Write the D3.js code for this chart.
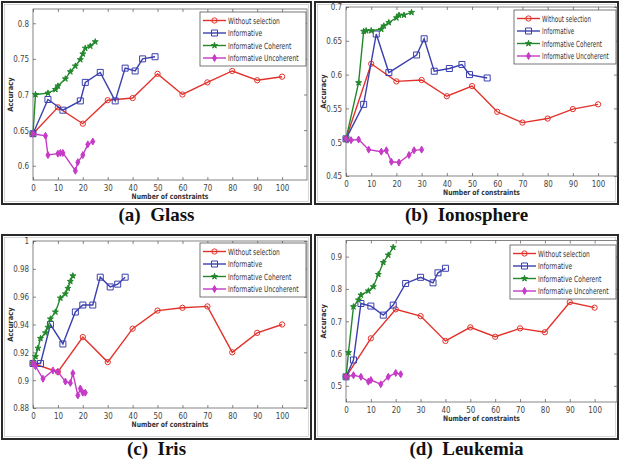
<!DOCTYPE html>
<html>
<head>
<meta charset="utf-8">
<script src="https://cdn.jsdelivr.net/npm/d3@7"></script>
<style>
  body { margin: 0; background: #fff; }
  svg { display: block; }
</style>
</head>
<body>
<script>
// legend names
const seriesNames = ['Without selection', 'Informative', 'Informative Coherent', 'Informative Uncoherent'];
const xTicks = [0, 10, 20, 30, 40, 50, 60, 70, 80, 90, 100];

// (a) Glass
const glassWithoutX = [0, 10, 20, 30, 40, 50, 60, 70, 80, 90, 100];
const glassWithoutY = [0.645, 0.682, 0.659, 0.692, 0.695, 0.729, 0.700, 0.717, 0.733, 0.720, 0.725];
const glassInfX = [0, 6, 12, 19, 21, 27, 33, 37, 41, 44, 49];
const glassInfY = [0.645, 0.693, 0.678, 0.691, 0.717, 0.731, 0.691, 0.737, 0.733, 0.750, 0.753];
const glassCohX = [0, 1, 6, 9, 10, 13, 15, 17, 19, 20, 21, 23, 25];
const glassCohY = [0.645, 0.700, 0.702, 0.707, 0.712, 0.722, 0.732, 0.740, 0.749, 0.757, 0.765, 0.768, 0.774];
const glassUncX = [0, 5, 6, 10, 11, 12, 17, 18, 20, 22, 24];
const glassUncY = [0.645, 0.642, 0.615, 0.617, 0.618, 0.618, 0.593, 0.605, 0.615, 0.630, 0.634];
const glassYTicks = [0.6, 0.65, 0.7, 0.75, 0.8];

// (b) Ionosphere
const ionoWithoutX = [0, 10, 20, 30, 40, 50, 60, 70, 80, 90, 100];
const ionoWithoutY = [0.505, 0.616, 0.590, 0.592, 0.568, 0.583, 0.545, 0.529, 0.535, 0.549, 0.556];
const ionoInfX = [0, 7, 12, 17, 28, 31, 35, 41, 46, 49, 56];
const ionoInfY = [0.505, 0.556, 0.660, 0.603, 0.629, 0.653, 0.605, 0.609, 0.615, 0.600, 0.595];
const ionoCohX = [0, 5, 7, 8, 10, 14, 15, 17, 20, 21, 23, 26];
const ionoCohY = [0.505, 0.588, 0.664, 0.665, 0.665, 0.667, 0.672, 0.677, 0.684, 0.688, 0.688, 0.692];
const ionoUncX = [0, 2, 5, 9, 14, 16, 18, 21, 25, 27, 30];
const ionoUncY = [0.505, 0.503, 0.504, 0.489, 0.486, 0.488, 0.471, 0.470, 0.481, 0.488, 0.489];
const ionoYTicks = [0.45, 0.5, 0.55, 0.6, 0.65, 0.7];

// (c) Iris
const irisWithoutX = [0, 10, 20, 30, 40, 50, 60, 70, 80, 90, 100];
const irisWithoutY = [0.912, 0.906, 0.931, 0.913, 0.937, 0.950, 0.952, 0.953, 0.920, 0.934, 0.940];
const irisInfX = [0, 3, 7, 12, 17, 20, 24, 27, 31, 34, 37];
const irisInfY = [0.912, 0.912, 0.940, 0.926, 0.949, 0.954, 0.954, 0.974, 0.967, 0.969, 0.974];
const irisCohX = [0, 1, 2, 3, 5, 6, 7, 9, 11, 13, 14, 15, 16];
const irisCohY = [0.912, 0.917, 0.923, 0.930, 0.934, 0.938, 0.944, 0.949, 0.959, 0.962, 0.966, 0.971, 0.975];
const irisUncX = [0, 1, 4, 8, 10, 13, 15, 16, 18, 19, 20, 21];
const irisUncY = [0.912, 0.910, 0.901, 0.907, 0.906, 0.899, 0.898, 0.905, 0.889, 0.894, 0.891, 0.891];
const irisYTicks = [0.88, 0.9, 0.92, 0.94, 0.96, 0.98, 1];

// (d) Leukemia
const leukWithoutX = [0, 10, 20, 30, 40, 50, 60, 70, 80, 90, 100];
const leukWithoutY = [0.528, 0.647, 0.737, 0.716, 0.639, 0.681, 0.652, 0.678, 0.666, 0.759, 0.742];
const leukInfX = [0, 3, 6, 10, 15, 19, 24, 30, 35, 37, 40];
const leukInfY = [0.528, 0.580, 0.755, 0.747, 0.719, 0.750, 0.817, 0.836, 0.819, 0.850, 0.864];
const leukCohX = [0, 1, 3, 5, 6, 9, 11, 13, 15, 17, 19];
const leukCohY = [0.528, 0.603, 0.745, 0.766, 0.781, 0.794, 0.807, 0.845, 0.882, 0.905, 0.929];
const leukUncX = [0, 3, 6, 9, 10, 14, 17, 20, 22];
const leukUncY = [0.528, 0.533, 0.528, 0.513, 0.518, 0.505, 0.528, 0.540, 0.536];
const leukYTicks = [0.5, 0.6, 0.7, 0.8, 0.9];

const colors = ['#e2312b', '#3b3fae', '#23882c', '#c53ac6'];
const symbols = [d3.symbolCircle, d3.symbolSquare, d3.symbolStar, d3.symbolDiamond];
const symSize = [22, 36, 11, 14];
const symFill = [false, false, true, true];

const tickFont = '"Liberation Sans Narrow", "DejaVu Sans Condensed", Arial, sans-serif';

const panels = [
  { caption: '(a)  Glass', frame: [2, 2, 311, 204], plot: [33, 9, 307, 180], xMax: 110, yDom: [0.58, 0.82],
    yTicks: glassYTicks, legend: [200, 12], capY: 221,
    series: [[glassWithoutX, glassWithoutY], [glassInfX, glassInfY], [glassCohX, glassCohY], [glassUncX, glassUncY]] },
  { caption: '(b)  Ionosphere', frame: [315, 2, 618, 204], plot: [346, 7, 617, 176], xMax: 107.5, yDom: [0.45, 0.7],
    yTicks: ionoYTicks, legend: [514, 10], capY: 221,
    series: [[ionoWithoutX, ionoWithoutY], [ionoInfX, ionoInfY], [ionoCohX, ionoCohY], [ionoUncX, ionoUncY]] },
  { caption: '(c)  Iris', frame: [2, 235, 311, 439], plot: [33, 241, 307, 408], xMax: 110, yDom: [0.88, 1.0],
    yTicks: irisYTicks, legend: [200, 243], capY: 455,
    series: [[irisWithoutX, irisWithoutY], [irisInfX, irisInfY], [irisCohX, irisCohY], [irisUncX, irisUncY]] },
  { caption: '(d)  Leukemia', frame: [315, 235, 618, 439], plot: [346, 240.5, 617, 402], xMax: 109, yDom: [0.45, 0.95],
    yTicks: leukYTicks, legend: [510, 245], capY: 455,
    series: [[leukWithoutX, leukWithoutY], [leukInfX, leukInfY], [leukCohX, leukCohY], [leukUncX, leukUncY]] }
];

const svg = d3.select('body').append('svg')
  .attr('width', 619)
  .attr('height', 466);

// squeeze a text horizontally, the reference uses a narrow face
function narrow(sel, k) {
  sel.each(function () {
    const w = this.getComputedTextLength();
    if (w > 0) {
      d3.select(this).attr('textLength', w * k).attr('lengthAdjust', 'spacingAndGlyphs');
    }
  });
}

panels.forEach(p => {
  const [fx0, fy0, fx1, fy1] = p.frame;
  const [px0, py0, px1, py1] = p.plot;

  // panel frame (double line look)
  svg.append('rect')
    .attr('x', fx0).attr('y', fy0)
    .attr('width', fx1 - fx0).attr('height', fy1 - fy0)
    .attr('fill', 'none').attr('stroke', '#2a2a2a').attr('stroke-width', 2);
  svg.append('rect')
    .attr('x', fx0 + 2.5).attr('y', fy0 + 2.5)
    .attr('width', fx1 - fx0 - 5).attr('height', fy1 - fy0 - 5)
    .attr('fill', 'none').attr('stroke', '#bbb').attr('stroke-width', 0.6);

  const x = d3.scaleLinear().domain([0, p.xMax]).range([px0, px1]);
  const y = d3.scaleLinear().domain(p.yDom).range([py1, py0]);

  const g = svg.append('g');

  // axes box
  g.append('rect')
    .attr('x', px0).attr('y', py0)
    .attr('width', px1 - px0).attr('height', py1 - py0)
    .attr('fill', '#fff').attr('stroke', '#666').attr('stroke-width', 0.8);

  // ticks point inward, like the original matlab figure
  const xAxis = g.append('g')
    .attr('transform', `translate(0,${py1})`)
    .call(d3.axisBottom(x).tickValues(xTicks).tickSize(-3).tickPadding(5).tickFormat(d3.format('d')));
  const xTop = g.append('g')
    .attr('transform', `translate(0,${py0})`)
    .call(d3.axisTop(x).tickValues(xTicks).tickSize(-3).tickFormat(''));

  const yAxis = g.append('g')
    .attr('transform', `translate(${px0},0)`)
    .call(d3.axisLeft(y).tickValues(p.yTicks).tickSize(-3).tickPadding(4).tickFormat(d => String(+d.toFixed(2))));
  const yRight = g.append('g')
    .attr('transform', `translate(${px1},0)`)
    .call(d3.axisRight(y).tickValues(p.yTicks).tickSize(-3).tickFormat(''));

  [xAxis, xTop, yAxis, yRight].forEach(a => {
    a.select('.domain').remove();
    a.selectAll('.tick line').attr('stroke', '#555').attr('stroke-width', 0.7);
    a.selectAll('.tick text')
      .attr('fill', '#444')
      .style('font-family', tickFont)
      .style('font-size', '9px')
      .call(narrow, 0.88);
  });

  // axis titles
  g.append('text')
    .attr('x', (px0 + px1) / 2).attr('y', py1 + 19)
    .attr('text-anchor', 'middle')
    .style('font-family', tickFont).style('font-size', '7.5px').style('font-weight', 'bold')
    .attr('fill', '#333')
    .text('Number of constraints')
    .call(narrow, 0.9);
  g.append('text')
    .attr('transform', `translate(${px0 - 20},${(py0 + py1) / 2}) rotate(-90)`)
    .attr('text-anchor', 'middle')
    .style('font-family', tickFont).style('font-size', '7.5px').style('font-weight', 'bold')
    .attr('fill', '#333')
    .text('Accuracy');

  const clipId = 'clip' + px0 + '_' + Math.round(py0);
  svg.append('clipPath').attr('id', clipId)
    .append('rect').attr('x', px0 - 6).attr('y', py0 - 6)
    .attr('width', px1 - px0 + 12).attr('height', py1 - py0 + 12);

  const line = d3.line().x(d => x(d[0])).y(d => y(d[1]));

  const plotG = g.append('g').attr('clip-path', `url(#${clipId})`);
  p.series.forEach(([xs, ys], i) => {
    const pts = xs.map((v, k) => [v, ys[k]]);
    plotG.append('path')
      .datum(pts)
      .attr('d', line)
      .attr('fill', 'none')
      .attr('stroke', colors[i])
      .attr('stroke-width', 1.4);
    plotG.selectAll(null)
      .data(pts)
      .enter().append('path')
      .attr('transform', d => `translate(${x(d[0])},${y(d[1])})`)
      .attr('d', d3.symbol().type(symbols[i]).size(symSize[i]))
      .attr('fill', symFill[i] ? colors[i] : 'none')
      .attr('stroke', colors[i])
      .attr('stroke-width', 1);
  });

  // legend
  const [lx, ly] = p.legend;
  const lw = px1 - lx - 1;
  const lg = g.append('g').attr('transform', `translate(${lx},${ly})`);
  lg.append('rect')
    .attr('width', lw).attr('height', 54)
    .attr('fill', '#fff').attr('stroke', '#555').attr('stroke-width', 0.8);
  // horizontal squeeze so the longest label stays inside the box
  const k = Math.min(0.8, (lw - 32) / 95);
  seriesNames.forEach((name, i) => {
    const ry = 8.5 + i * 12.5;
    lg.append('line')
      .attr('x1', 3).attr('x2', 26).attr('y1', ry).attr('y2', ry)
      .attr('stroke', colors[i]).attr('stroke-width', 1.4);
    lg.append('path')
      .attr('transform', `translate(14.5,${ry})`)
      .attr('d', d3.symbol().type(symbols[i]).size(symSize[i]))
      .attr('fill', symFill[i] ? colors[i] : 'none')
      .attr('stroke', colors[i]).attr('stroke-width', 1);
    lg.append('text')
      .attr('transform', `translate(28,${ry + 3}) scale(${k},1)`)
      .style('font-family', tickFont).style('font-size', '8.5px')
      .attr('fill', '#333')
      .text(name);
  });

  // caption
  svg.append('text')
    .attr('x', (fx0 + fx1) / 2).attr('y', p.capY)
    .attr('text-anchor', 'middle')
    .style('white-space', 'pre')
    .style('font-family', '"Liberation Serif", "Times New Roman", serif')
    .style('font-size', '19px').style('font-weight', 'bold')
    .attr('fill', '#111')
    .text(p.caption);
});
</script>
</body>
</html>
